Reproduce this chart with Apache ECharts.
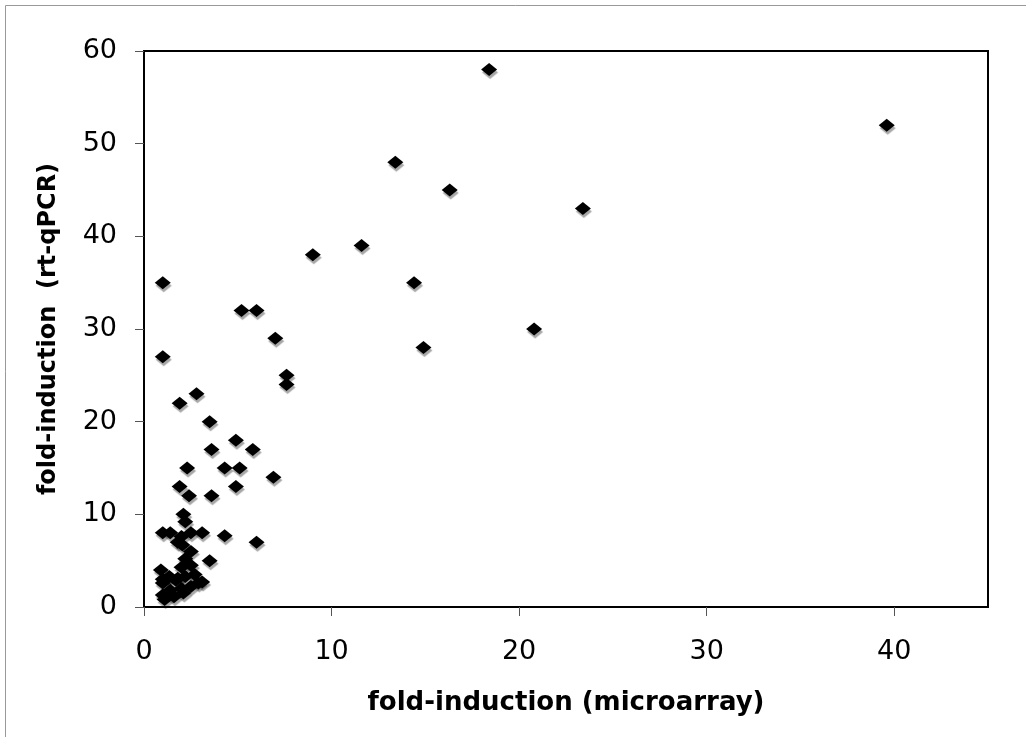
<!DOCTYPE html>
<html>
<head>
<meta charset="utf-8">
<script src="https://cdn.jsdelivr.net/npm/echarts@6/dist/echarts.min.js"></script>
<style>html,body{margin:0;padding:0;background:#fff;}#c{width:1026px;height:737px;}</style>
</head>
<body>
<div id="c"></div>
<script>
// fold-induction measured by microarray (x) and rt-qPCR (y)
const microarray = [18.4,39.6,13.4,16.3,23.4,11.6,9.0,1.0,14.4,5.2,6.0,20.8,7.0,1.0,14.9,7.6,7.6,
  2.8,1.9,3.5,4.9,3.6,5.8,2.3,4.3,5.1,6.9,1.9,4.9,2.4,3.6,2.1,2.2,1.0,1.4,3.1,2.5,4.3,6.0,2.0,2.05,1.8,2.5,3.5,2.2,
  0.9,2.0,2.5,1.35,1.0,1.8,2.2,2.7,2.9,3.1,2.0,2.5,1.4,1.0,1.1,2.1,1.6,1.0,1.7];
const rtqpcr = [58,52,48,45,43,39,38,35,35,32,32,30,29,27,28,25,24,
  23,22,20,18,17,17,15,15,15,14,13,13,12,12,10,9.2,8,8,8,8,7.7,7,7.6,6.7,7,6,5,5.2,
  4,4.3,4.5,3.3,2.6,3.1,3.3,3.5,2.6,2.7,2,2.2,1.8,1.3,0.8,1.5,1.1,3.0,2.9];
const xTicks = [0,10,20,30,40];
const yTicks = [0,10,20,30,40,50,60];
const xTitle = 'fold-induction (microarray)';
const yTitle = 'fold-induction  (rt-qPCR)';

const points = microarray.map((x, i) => [x, rtqpcr[i]]);
const chart = echarts.init(document.getElementById('c'));
const font = 'DejaVu Sans, Verdana, sans-serif';
chart.setOption({
  animation: false,
  backgroundColor: '#fff',
  graphic: [{
    type: 'polyline',
    shape: { points: [[5.5, 737], [5.5, 5.5], [1026, 5.5]] },
    style: { stroke: '#999', lineWidth: 1, fill: null }
  }],
  grid: { left: 144, right: 38, top: 51, bottom: 130, show: true, borderColor: '#000', borderWidth: 2, backgroundColor: '#fff' },
  xAxis: {
    type: 'value', min: 0, max: 45, interval: 10,
    splitLine: { show: false },
    axisLine: { show: true, onZero: false, lineStyle: { color: '#000', width: 2 } },
    axisTick: { show: true, length: 9, customValues: xTicks, lineStyle: { color: '#555', width: 1 } },
    axisLabel: { customValues: xTicks, margin: 31, fontSize: 27, color: '#000', fontFamily: font },
    name: xTitle, nameLocation: 'middle', nameGap: 83,
    nameTextStyle: { fontSize: 26, fontWeight: 'bold', color: '#000', fontFamily: font }
  },
  yAxis: {
    type: 'value', min: 0, max: 60, interval: 10,
    splitLine: { show: false },
    axisLine: { show: true, onZero: false, lineStyle: { color: '#000', width: 2 } },
    axisTick: { show: true, length: 9, customValues: yTicks, lineStyle: { color: '#555', width: 1 } },
    axisLabel: { customValues: yTicks, margin: 27, fontSize: 27, color: '#000', fontFamily: font },
    name: yTitle, nameLocation: 'middle', nameGap: 83,
    nameTextStyle: { fontSize: 24, fontWeight: 'bold', color: '#000', fontFamily: font }
  },
  series: [{
    type: 'scatter',
    data: points,
    symbol: 'diamond',
    symbolSize: [16, 13],
    itemStyle: { color: '#000', opacity: 1, shadowColor: 'rgba(0,0,0,0.35)', shadowOffsetX: 1, shadowOffsetY: 3, shadowBlur: 1 }
  }]
});
</script>
</body>
</html>
